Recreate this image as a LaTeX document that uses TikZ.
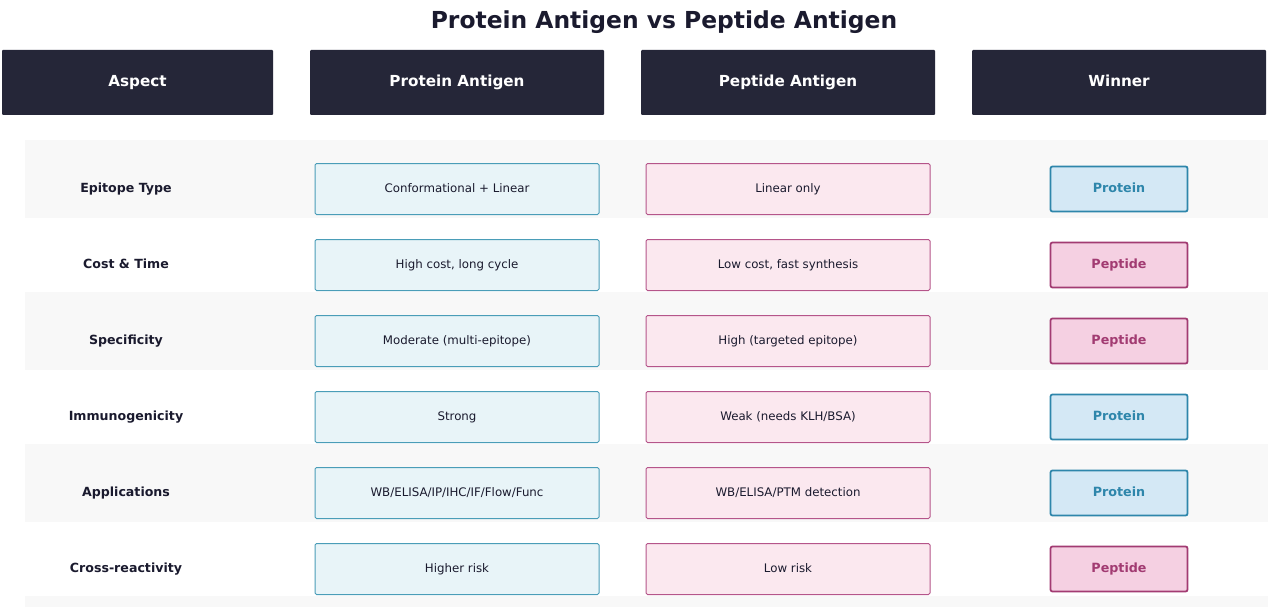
\documentclass[tikz,border=0pt]{standalone}
\usepackage{fontspec}
\setmainfont{DejaVu Sans}
\definecolor{headbg}{HTML}{252638}
\definecolor{stripe}{HTML}{F8F8F8}
\definecolor{protfill}{HTML}{E8F4F8}
\definecolor{protline}{HTML}{4A9DB8}
\definecolor{pepfill}{HTML}{FBE8EF}
\definecolor{pepline}{HTML}{B5558A}
\definecolor{protwin}{HTML}{2E86AB}
\definecolor{protwinfill}{HTML}{D4E8F5}
\definecolor{pepwin}{HTML}{A23B72}
\definecolor{pepwinfill}{HTML}{F5D0E2}
\definecolor{ink}{HTML}{1A1A2E}
\tikzset{
  head/.style={fill=headbg, rounded corners=1pt, minimum height=65pt, text=white, font=\fontsize{15.2}{18}\selectfont\bfseries, inner sep=0pt, text height=11pt, text depth=3pt},
  aspect/.style={text=ink, font=\fontsize{12.6}{15}\selectfont\bfseries, text height=9.5pt, text depth=2.5pt},
  protcell/.style={draw=protline, fill=protfill, line width=1pt, rounded corners=1.5pt, minimum width=284pt, minimum height=51pt, text=ink, font=\fontsize{11.8}{14}\selectfont, text height=9pt, text depth=2.5pt},
  pepcell/.style={draw=pepline, fill=pepfill, line width=1pt, rounded corners=1.5pt, minimum width=284pt, minimum height=51pt, text=ink, font=\fontsize{11.8}{14}\selectfont, text height=9pt, text depth=2.5pt},
  Protein/.style={draw=protwin, fill=protwinfill, text=protwin, line width=1.8pt, rounded corners=2pt, minimum width=137pt, minimum height=45pt, font=\fontsize{12.7}{15}\selectfont\bfseries, text height=9.5pt, text depth=2.5pt},
  Peptide/.style={draw=pepwin, fill=pepwinfill, text=pepwin, line width=1.8pt, rounded corners=2pt, minimum width=137pt, minimum height=45pt, font=\fontsize{12.7}{15}\selectfont\bfseries, text height=9.5pt, text depth=2.5pt},
}
\begin{document}
\begin{tikzpicture}[x=1pt, y=-1pt]
\useasboundingbox (0,0) rectangle (1268,607);
\fill[white] (0,0) rectangle (1268,607);

% striped rows
\foreach \top in {140, 292, 444, 596}
  \fill[stripe] (25,\top) rectangle (1268,{min(\top+78,607)});

\node[text=ink, font=\fontsize{23.4}{28}\selectfont\bfseries] (title) at (664,22) {Protein Antigen vs Peptide Antigen};

\node[head, minimum width=271pt] (aspect head) at (137.5,82.5) {Aspect};
\node[head, minimum width=294pt] (protein head) at (457,82.5) {Protein Antigen};
\node[head, minimum width=294pt] (peptide head) at (788,82.5) {Peptide Antigen};
\node[head, minimum width=294pt] (winner head) at (1119,82.5) {Winner};

\foreach \i/\asp/\prot/\pep/\win in {
  1/Epitope Type/Conformational + Linear/Linear only/Protein,
  2/Cost \& Time/{High cost, long cycle}/{Low cost, fast synthesis}/Peptide,
  3/Specificity/Moderate (multi-epitope)/High (targeted epitope)/Peptide,
  4/Immunogenicity/Strong/{Weak (needs KLH/BSA)}/Protein,
  5/Applications/{WB/ELISA/IP/IHC/IF/Flow/Func}/{WB/ELISA/PTM detection}/Protein,
  6/Cross-reactivity/Higher risk/Low risk/Peptide}
{
  \node[aspect] (aspect \i) at (126,{113+76*\i}) {\asp};
  \node[protcell] (protein \i) at (457,{113+76*\i}) {\prot};
  \node[pepcell] (peptide \i) at (788,{113+76*\i}) {\pep};
  \node[\win] (winner \i) at (1119,{113+76*\i}) {\win};
}
\end{tikzpicture}
\end{document}
